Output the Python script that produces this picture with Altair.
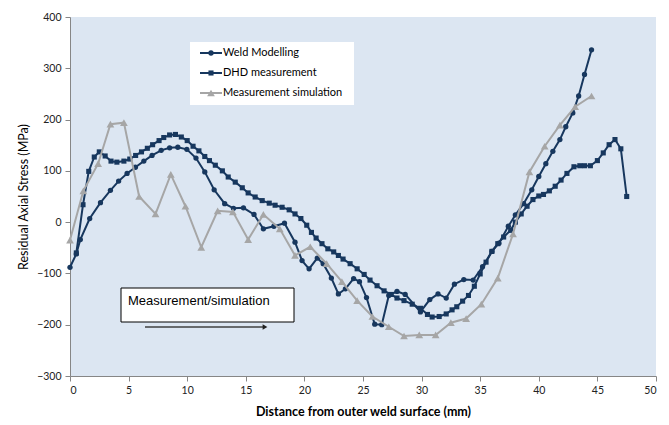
import altair as alt
import pandas as pd

# ---- data ----
weld_x = [0.0, 0.54, 0.88, 1.68, 2.6, 3.45, 4.15, 4.87, 5.58, 6.3, 7.0, 7.78, 8.5, 9.2, 9.97,
          10.75, 11.5, 12.3, 13.2, 13.95, 14.8, 15.7, 16.5, 17.4, 18.3, 19.2, 19.8, 20.4, 21.1,
          21.6, 22.3, 22.9, 23.5, 24.2, 24.7, 25.3, 26.0, 26.6, 27.2, 27.9, 28.6, 29.9, 30.7,
          31.4, 32.1, 32.8, 33.6, 34.4, 35.2, 36.0, 36.6, 37.4, 38.0, 38.7, 39.4, 40.0, 40.6,
          41.2, 41.8, 42.3, 42.9, 43.4, 43.9, 44.5]
weld_y = [-88, -62, -34, 7, 38, 62, 80, 95, 107, 119, 130, 140, 145, 146, 142,
          125, 98, 63, 36, 27, 28, 15, -13, -8, -2, -39, -75, -91, -70,
          -81, -109, -140, -130, -110, -116, -147, -199, -200, -143, -135, -141, -175, -151,
          -140, -148, -121, -112, -113, -87, -57, -41, -8, 14, 36, 63, 89, 114,
          138, 161, 186, 213, 246, 288, 336]

dhd_x = [0.54, 1.11, 1.6, 2.07, 2.5, 3.0, 3.5, 4.0, 4.6, 5.1, 5.6, 6.1, 6.6, 7.05, 7.6, 8.0,
         8.5, 9.0, 9.5, 10.0, 10.5, 11.0, 11.5, 11.9, 12.4, 13.0, 13.5, 14.1, 14.7, 15.2, 15.8,
         16.4, 17.0, 17.5, 18.1, 18.7, 19.2, 19.7, 20.2, 20.6, 21.0, 21.5, 22.0, 22.5, 22.9,
         23.3, 23.9, 24.5, 25.1, 25.6, 26.2, 26.8, 27.4, 27.9, 28.5, 29.2, 29.9, 30.5, 30.9,
         31.5, 32.1, 32.6, 33.0, 33.5, 34.0, 34.5, 35.0, 35.5, 36.0, 36.5, 37.0, 37.6, 38.0,
         38.5, 39.0, 39.5, 40.0, 40.4, 40.9, 41.4, 41.9, 42.4, 43.0, 43.5, 43.9, 44.4, 45.0,
         45.5, 46.0, 46.5, 47.0, 47.5]
dhd_y = [-60, 34, 99, 127, 137, 129, 119, 117, 119, 123, 130, 137, 144, 151, 159, 165,
         170, 171, 166, 159, 148, 139, 128, 120, 111, 100, 88, 78, 67, 57, 49,
         42, 37, 33, 29, 24, 16, 7, -6, -20, -31, -42, -52, -58, -65,
         -72, -81, -91, -102, -113, -124, -134, -141, -148, -153, -160, -168, -180, -185,
         -184, -179, -171, -165, -154, -143, -125, -101, -78, -57, -42, -29, -16, 0,
         16, 31, 44, 51, 54, 61, 70, 82, 95, 108, 110, 110, 110, 120,
         135, 151, 161, 143, 50]

sim_x = [0.0, 1.14, 2.4, 3.45, 4.6, 5.9, 7.3, 8.6, 9.85, 11.2, 12.6, 13.9, 15.2, 16.5, 17.9,
         19.2, 20.5, 21.9, 23.2, 24.5, 25.8, 27.2, 28.5, 29.8, 31.2, 32.5, 33.8, 35.1, 36.5,
         37.8, 39.2, 40.5, 41.8, 43.1, 44.5]
sim_y = [-35, 61, 114, 191, 194, 50, 16, 93, 31, -49, 22, 20, -34, 15, -13,
         -65, -48, -81, -116, -153, -184, -204, -222, -220, -220, -196, -188, -160, -109,
         -23, 98, 148, 189, 225, 246]

series_names = ["Weld Modelling", "DHD measurement", "Measurement simulation"]
x_ticks = list(range(0, 51, 5))
y_ticks = list(range(-300, 401, 100))

NAVY = "#17375e"
GREY = "#a6a6a6"
FONT = "Lato"

W, H = 586, 359

xs = alt.Scale(domain=[0, 50], nice=False)
ys = alt.Scale(domain=[-300, 400], nice=False)

x_axis = alt.Axis(values=x_ticks, title="Distance from outer weld surface (mm)",
                  titleFontWeight="bold", titleFontSize=12.5, titleFont=FONT, titleColor="#000000",
                  labelFont=FONT, labelFontSize=10.5, labelColor="#222222",
                  tickSize=5, tickColor="#868686", domainColor="#868686",
                  labelPadding=4, titlePadding=10, grid=False)
y_axis = alt.Axis(values=y_ticks, title="Residual Axial Stress (MPa)",
                  titleFontWeight="normal", titleFontSize=12.5, titleFont=FONT, titleColor="#000000",
                  labelFont=FONT, labelFontSize=10.5, labelColor="#222222",
                  tickSize=5, tickColor="#868686", domainColor="#868686",
                  labelPadding=4, titlePadding=6, grid=False)


def series_layer(xv, yv, color, shape, size):
    df = pd.DataFrame({"x": xv, "y": yv})
    return alt.Chart(df).mark_line(
        color=color, strokeWidth=2,
        point=alt.OverlayMarkDef(shape=shape, size=size, filled=True, color=color, opacity=1)
    ).encode(
        x=alt.X("x:Q", scale=xs, axis=x_axis),
        y=alt.Y("y:Q", scale=ys, axis=y_axis),
    )


weld = series_layer(weld_x, weld_y, NAVY, "circle", 28)
dhd = series_layer(dhd_x, dhd_y, NAVY, "square", 26)
sim = series_layer(sim_x, sim_y, GREY, "triangle-up", 60)

# ---- legend (white box with line+marker samples) ----
one = pd.DataFrame({"a": [0]})
leg_box = alt.Chart(one).mark_rect(color="white").encode(
    x=alt.value(120), x2=alt.value(284), y=alt.value(25), y2=alt.value(88))

legend_layers = [leg_box]
rows = [(series_names[0], NAVY, "circle", 28, 36),
        (series_names[1], NAVY, "square", 26, 56),
        (series_names[2], GREY, "triangle-up", 60, 76)]
for name, col, shp, sz, yy in rows:
    legend_layers.append(alt.Chart(one).mark_rule(color=col, strokeWidth=2).encode(
        x=alt.value(130), x2=alt.value(152), y=alt.value(yy)))
    legend_layers.append(alt.Chart(one).mark_point(shape=shp, size=sz, filled=True, color=col, opacity=1).encode(
        x=alt.value(141), y=alt.value(yy)))
    legend_layers.append(alt.Chart(pd.DataFrame({"t": [name]})).mark_text(
        align="left", baseline="middle", font=FONT, fontSize=11, color="#000000").encode(
        x=alt.value(153), y=alt.value(yy), text="t:N"))

# ---- annotation box with arrow ----
ann_box = alt.Chart(one).mark_rect(color="white", stroke="#000000", strokeWidth=1).encode(
    x=alt.value(51), x2=alt.value(224), y=alt.value(271), y2=alt.value(305))
ann_text = alt.Chart(pd.DataFrame({"t": ["Measurement/simulation"]})).mark_text(
    align="left", baseline="middle", font="Liberation Sans", fontSize=13, color="#000000").encode(
    x=alt.value(58), y=alt.value(284), text="t:N")
arrow_line = alt.Chart(one).mark_rule(color="#404040", strokeWidth=1.5).encode(
    x=alt.value(75), x2=alt.value(193), y=alt.value(310))
arrow_head = alt.Chart(one).mark_point(shape="triangle-right", size=30, filled=True,
                                       color="#202020", opacity=1).encode(
    x=alt.value(195), y=alt.value(310))

chart = alt.layer(
    weld, dhd, sim, *legend_layers, ann_box, ann_text, arrow_line, arrow_head
).properties(
    width=W, height=H,
    autosize=alt.AutoSizeParams(type="none"),
    padding={"left": 62, "top": 9, "right": 5, "bottom": 45},
    background="white",
).configure_view(fill="#dce6f2", strokeWidth=0)

chart.save("out.html", embed_options={"renderer": "svg", "actions": False})
